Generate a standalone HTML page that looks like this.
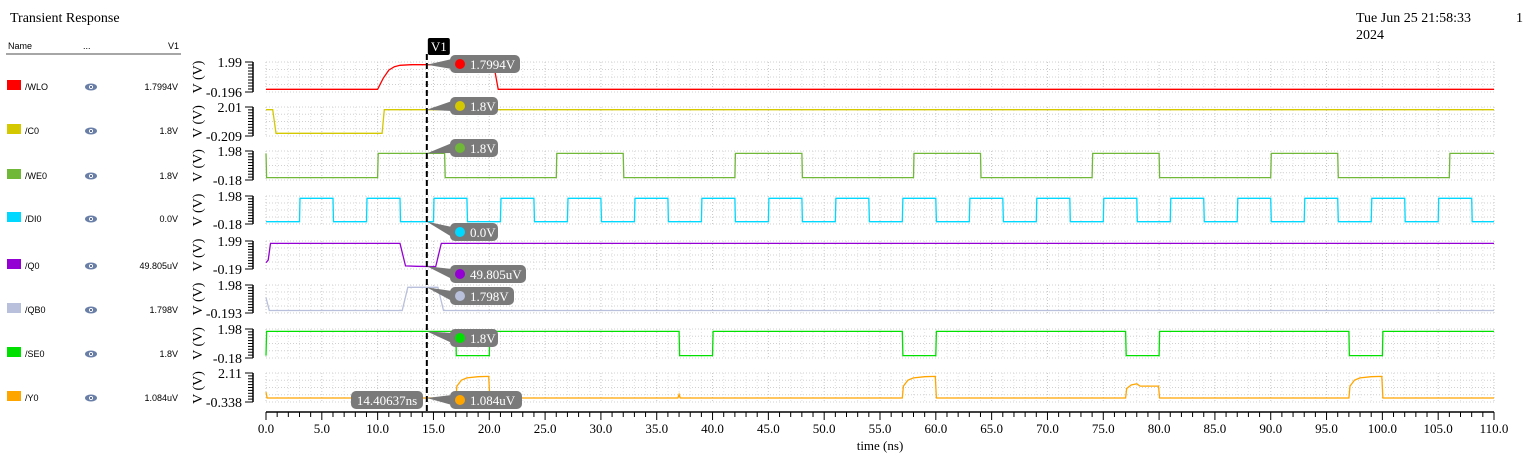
<!DOCTYPE html>
<html><head><meta charset="utf-8">
<style>
body{margin:0;background:#fff;width:1526px;height:460px;overflow:hidden;font-family:"Liberation Serif",serif;}
svg{display:block}
</style></head>
<body>
<svg id="c" width="1526" height="460" xmlns="http://www.w3.org/2000/svg"></svg>
<script>
const xTicks=[0,5,10,15,20,25,30,35,40,45,50,55,60,65,70,75,80,85,90,95,100,105,110];
const names=["/WLO","/C0","/WE0","/DI0","/Q0","/QB0","/SE0","/Y0"];
const colors=["#ff0000","#d4c800","#70b838","#00d8ff","#9400d3","#b8c0dc","#00e000","#ffa500"];
const yMax=["1.99","2.01","1.98","1.98","1.99","1.98","1.98","2.11"];
const yMin=["-0.196","-0.209","-0.18","-0.18","-0.19","-0.193","-0.18","-0.338"];
const vals=["1.7994V","1.8V","1.8V","0.0V","49.805uV","1.798V","1.8V","1.084uV"];
const cursorT=14.40637;
const wlo=[[0,0],[10,0],[10.5,0.8],[11,1.4],[11.5,1.65],[12,1.75],[13,1.79],[20.4,1.8],[20.8,0],[110,0]];
const c0=[[0,1.8],[0.6,1.8],[0.9,0],[10.4,0],[10.6,1.8],[110,1.8]];
const we0=[[0,1.8],[0.05,0],[10,0],[10.05,1.8],[16,1.8],[16.05,0],[26,0],[26.05,1.8],[32,1.8],[32.05,0],[42,0],[42.05,1.8],[48,1.8],[48.05,0],[58,0],[58.05,1.8],[64,1.8],[64.05,0],[74,0],[74.05,1.8],[80,1.8],[80.05,0],[90,0],[90.05,1.8],[96,1.8],[96.05,0],[106,0],[106.05,1.8],[110,1.8]];
const di0=[[0,0],[3,0],[3.05,1.8],[6,1.8],[6.05,0],[9,0],[9.05,1.8],[12,1.8],[12.05,0],[15,0],[15.05,1.8],[18,1.8],[18.05,0],[21,0],[21.05,1.8],[24,1.8],[24.05,0],[27,0],[27.05,1.8],[30,1.8],[30.05,0],[33,0],[33.05,1.8],[36,1.8],[36.05,0],[39,0],[39.05,1.8],[42,1.8],[42.05,0],[45,0],[45.05,1.8],[48,1.8],[48.05,0],[51,0],[51.05,1.8],[54,1.8],[54.05,0],[57,0],[57.05,1.8],[60,1.8],[60.05,0],[63,0],[63.05,1.8],[66,1.8],[66.05,0],[69,0],[69.05,1.8],[72,1.8],[72.05,0],[75,0],[75.05,1.8],[78,1.8],[78.05,0],[81,0],[81.05,1.8],[84,1.8],[84.05,0],[87,0],[87.05,1.8],[90,1.8],[90.05,0],[93,0],[93.05,1.8],[96,1.8],[96.05,0],[99,0],[99.05,1.8],[102,1.8],[102.05,0],[105,0],[105.05,1.8],[108,1.8],[108.05,0],[110,0]];
const q0=[[0,0.3],[0.2,0.5],[0.4,1.8],[12,1.8],[12.5,0.05],[13.5,0.02],[15.2,0],[15.7,1.8],[110,1.8]];
const qb0=[[0,1.0],[0.3,0],[12.2,0],[12.7,1.8],[15.4,1.8],[15.9,0],[110,0]];
const se0=[[0,0],[0.05,1.8],[17,1.8],[17.05,0],[20,0],[20.05,1.8],[37,1.8],[37.05,0],[40,0],[40.05,1.8],[57,1.8],[57.05,0],[60,0],[60.05,1.8],[77,1.8],[77.05,0],[80,0],[80.05,1.8],[97,1.8],[97.05,0],[100,0],[100.05,1.8],[110,1.8]];
const y0=[[0,0.5],[0.1,0],[17,0],[17.1,1.0],[17.5,1.5],[18,1.7],[19,1.8],[19.95,1.82],[20.05,0],[36.9,0],[37,0.3],[37.1,0],[57,0],[57.1,1.0],[57.5,1.5],[58,1.7],[59,1.8],[59.95,1.82],[60.05,0],[77,0],[77.1,0.8],[77.5,1.1],[78,1.2],[78.3,1.0],[79.95,1.0],[80.05,0],[97,0],[97.1,1.0],[97.5,1.5],[98,1.7],[99,1.8],[99.95,1.82],[100.05,0],[110,0]];
const waves=[wlo,c0,we0,di0,q0,qb0,se0,y0];

const svg=document.getElementById('c');
const NS="http://www.w3.org/2000/svg";
function mk(tag,attrs,parent){const e=document.createElementNS(NS,tag);for(const k in attrs)e.setAttribute(k,attrs[k]);(parent||svg).appendChild(e);return e;}
const X0=266,X1=1494,T1=110;
function xs(t){return X0+(X1-X0)*t/T1;}
const panTop=[62,107,151,196,241,285,329,373];
const panBot=[92,136,180,224,269,313,358,402];
function ys(i,v){const lo=parseFloat(yMin[i]),hi=parseFloat(yMax[i]);return panBot[i]-(v-lo)/(hi-lo)*(panBot[i]-panTop[i]);}

let t=mk('text',{x:10,y:22,'font-size':14});t.textContent='Transient Response';

t=mk('text',{x:1356,y:22,'font-size':14});t.textContent='Tue Jun 25 21:58:33';

t=mk('text',{x:1356,y:39,'font-size':14});t.textContent='2024';

t=mk('text',{x:1516,y:22,'font-size':14});t.textContent='1';


const hf='font-family:"Liberation Sans",sans-serif;font-size:9px';
t=mk('text',{x:8,y:49,style:hf});t.textContent='Name';

t=mk('text',{x:83,y:49,style:hf});t.textContent='...';

t=mk('text',{x:179,y:49,style:hf,'text-anchor':'end'});t.textContent='V1';

mk('line',{x1:6,y1:54,x2:181,y2:54,stroke:'#888','stroke-width':1.5});

const legY=[86,130,175,218,265,309,353,397];
for(let i=0;i<8;i++){
  const g=mk('g',{});
  
  
  mk('rect',{x:7,y:legY[i]-6,width:14,height:10,fill:colors[i]},g);
  let tt=mk('text',{x:25,y:legY[i]+4,style:hf},g);tt.textContent=names[i];
  const eye=mk('g',{},g);
  
  
  mk('ellipse',{cx:91,cy:legY[i]+1,rx:6,ry:3.5,fill:'#6a7fa8'},eye);
  mk('circle',{cx:91,cy:legY[i]+1,r:2,fill:'#fff'},eye);
  mk('circle',{cx:91,cy:legY[i]+1,r:1,fill:'#34466e'},eye);
  tt=mk('text',{x:178,y:legY[i]+4,style:hf,'text-anchor':'end'},g);tt.textContent=vals[i];
}

for(let i=0;i<8;i++){
  const g=mk('g',{});
  
  
  const top=panTop[i],bot=panBot[i];
  for(let k=0;k<=T1;k++){
    mk('line',{x1:xs(k),y1:top,x2:xs(k),y2:bot,stroke:k%5==0?'#c8c8c8':'#e2e2e2','stroke-width':1,'stroke-dasharray':'1,2'},g);
  }
  for(let k=0;k<=4;k++){
    const y=top+(bot-top)*k/4;
    mk('line',{x1:X0,y1:y,x2:X1,y2:y,stroke:'#d0d0d0','stroke-width':1,'stroke-dasharray':'1,2'},g);
  }
  mk('line',{x1:253,y1:top,x2:253,y2:bot,stroke:'#000','stroke-width':1.5},g);
  for(let k=0;k<=10;k++){const y=top+(bot-top)*k/10;mk('line',{x1:k%10==0?245:248,y1:y,x2:253,y2:y,stroke:'#000','stroke-width':1},g);}
  let tt=mk('text',{x:242,y:top+5,'font-size':14,'text-anchor':'end'},g);tt.textContent=yMax[i];
  
  tt=mk('text',{x:242,y:bot+5,'font-size':14,'text-anchor':'end'},g);tt.textContent=yMin[i];
  
  const cy=(top+bot)/2;
  tt=mk('text',{x:0,y:0,'font-size':14,'text-anchor':'middle',transform:`translate(202,${cy}) rotate(-90)`},g);tt.textContent='V (V)';
  
  const pts=waves[i].map(p=>xs(p[0]).toFixed(1)+','+ys(i,p[1]).toFixed(1)).join(' ');
  const pl=mk('polyline',{points:pts,fill:'none',stroke:colors[i],'stroke-width':1.3},g);
  
  
}

const ax=mk('g',{});


mk('line',{x1:X0,y1:412,x2:X1,y2:412,stroke:'#000','stroke-width':1.5},ax);
for(let k=0;k<=T1;k++){mk('line',{x1:xs(k),y1:412,x2:xs(k),y2:k%5==0?420:417,stroke:'#000','stroke-width':1},ax);}
xTicks.forEach(v=>{const tt=mk('text',{x:xs(v),y:433,'font-size':13,'text-anchor':'middle'},ax);tt.textContent=v.toFixed(1);});
t=mk('text',{x:880,y:450,'font-size':13,'text-anchor':'middle'});t.textContent='time (ns)';


const cx=xs(cursorT);
const cur=mk('line',{x1:cx,y1:54,x2:cx,y2:412,stroke:'#000','stroke-width':2,'stroke-dasharray':'6,3'});

mk('rect',{x:cx+1,y:38,width:22,height:17,rx:2,fill:'#000'});
t=mk('text',{x:cx+12,y:51,'font-size':13,fill:'#fff','text-anchor':'middle'});t.textContent='V1';


const calY=[64,106,148,232,274,296,338,400];
const calW=[70,48,48,48,76,64,48,72];
for(let i=0;i<8;i++){
  const g=mk('g',{});
  
  
  const vy=ys(i,waves[i].reduce((a,p)=>p[0]<=cursorT?p:a)[1]);
  mk('polygon',{points:`${cx},${vy} 452,${calY[i]-5} 452,${calY[i]+5}`,fill:'#777'},g);
  mk('rect',{x:450,y:calY[i]-9,width:calW[i],height:18,rx:5,fill:'#7a7a7a'},g);
  mk('circle',{cx:460,cy:calY[i],r:5,fill:colors[i]},g);
  const tt=mk('text',{x:470,y:calY[i]+5,'font-size':13,fill:'#fff'},g);tt.textContent=vals[i];
}
const tg=mk('g',{});


mk('rect',{x:351,y:391,width:72,height:18,rx:5,fill:'#7a7a7a'},tg);
t=mk('text',{x:387,y:405,'font-size':13,fill:'#fff','text-anchor':'middle'},tg);t.textContent=cursorT.toFixed(5)+'ns';
</script>
</body></html>
